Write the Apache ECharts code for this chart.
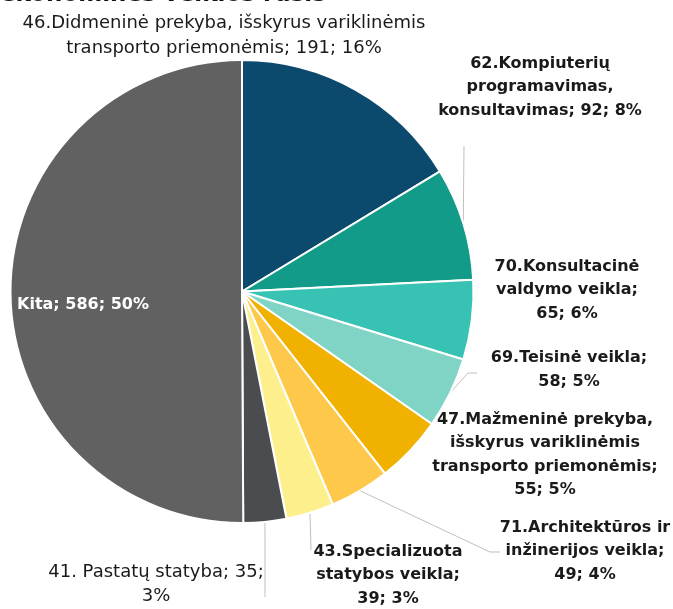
<!DOCTYPE html>
<html>
<head>
<meta charset="utf-8">
<script src="https://cdn.jsdelivr.net/npm/echarts@6/dist/echarts.min.js"></script>
<style>
  html, body { margin: 0; padding: 0; background: #fff; overflow: hidden; }
  #chart { width: 673px; height: 609px; }
</style>
</head>
<body>
<div id="chart"></div>
<script>
'use strict';

const categories = [
  '46.Didmeninė prekyba, išskyrus variklinėmis\ntransporto priemonėmis',
  '62.Kompiuterių\nprogramavimas,\nkonsultavimas',
  '70.Konsultacinė\nvaldymo veikla',
  '69.Teisinė veikla',
  '47.Mažmeninė prekyba,\nišskyrus variklinėmis\ntransporto priemonėmis',
  '71.Architektūros ir\ninžinerijos veikla',
  '43.Specializuota\nstatybos veikla',
  '41. Pastatų statyba',
  'Kita'
];
const values = [191, 92, 65, 58, 55, 49, 39, 35, 586];
// where each label breaks: after the name, after the value
const breaks = [
  [' ', ' '], [' ', ' '], ['\n', ' '], ['\n', ' '], ['\n', ' '],
  ['\n', ' '], ['\n', ' '], [' ', '\n'], [' ', ' ']
];
const colors = ['#0b4a6c', '#139b89', '#37c2b4', '#80d4c6', '#f0b100',
                '#fec94b', '#fdef8c', '#4b4c50', '#616161'];

// label centres, px
const labelPos = [
  [224, 36], [540, 87], [567, 290], [569, 370], [545, 455],
  [585, 551], [388, 575], [156, 584], [83, 305]
];
// leader lines: points after the one on the slice edge
const lineEnds = [
  null, [[464, 146]], null, [[468, 373], [477, 373]], null,
  [[490, 552], [500, 552]], [[311, 550]], [[265, 597]], null
];

const labelStyle = i => {
  if (i === 8) return { color: '#fff', fontWeight: 'bold', fontSize: 16 };
  if (i === 0 || i === 7) return { fontWeight: 'normal', fontSize: 18, lineHeight: i === 0 ? 25 : 24 };
  return { fontWeight: 'bold', fontSize: 16, lineHeight: 23.5 };
};

const data = values.map((v, i) => ({
  name: categories[i],
  value: v,
  itemStyle: { color: colors[i] },
  labelLine: { show: lineEnds[i] != null },
  label: labelStyle(i)
}));

const chart = echarts.init(document.getElementById('chart'), null, { renderer: 'canvas' });
chart.setOption({
  animation: false,
  graphic: [{
    type: 'text', left: 0, top: -16,
    style: { text: 'ekonominės veiklos rūšis', font: 'bold 23px "DejaVu Sans"', fill: '#111' }
  }],
  series: [{
    type: 'pie',
    center: [242, 291.5],
    radius: 231.5,
    startAngle: 90,
    clockwise: true,
    itemStyle: { borderColor: '#fff', borderWidth: 2 },
    label: {
      show: true,
      fontFamily: 'DejaVu Sans',
      color: '#1a1a1a',
      align: 'center',
      overflow: 'none',
      formatter: p => {
        const b = breaks[p.dataIndex];
        return p.name + ';' + b[0] + p.value + ';' + b[1] + Math.round(p.percent) + '%';
      }
    },
    labelLine: { lineStyle: { color: '#bfbfbf', width: 1 }, length: 10, length2: 8 },
    labelLayout: p => {
      const i = p.dataIndex;
      const out = { x: labelPos[i][0], y: labelPos[i][1], align: 'center', verticalAlign: 'middle' };
      if (lineEnds[i] && p.labelLinePoints) {
        out.labelLinePoints = [p.labelLinePoints[0]].concat(lineEnds[i]);
      }
      return out;
    },
    data: data
  }]
});
</script>
</body>
</html>
